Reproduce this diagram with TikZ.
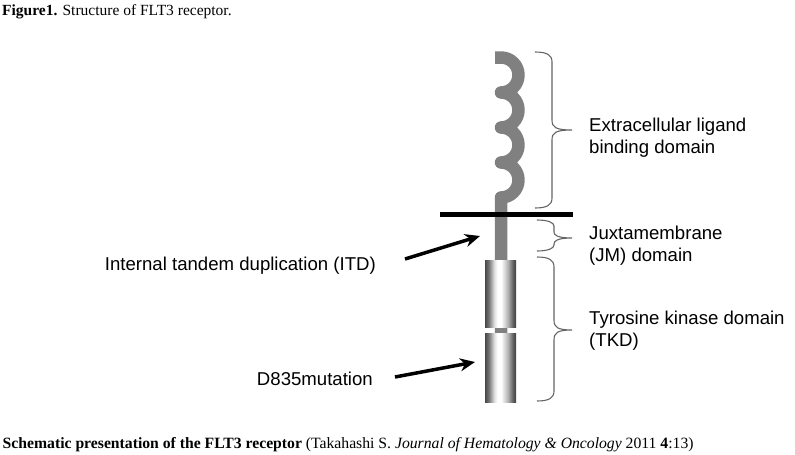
\documentclass[tikz,border=0pt]{standalone}
\usepackage{fontspec}
\setmainfont{Liberation Sans}
\newfontfamily\capfont{Liberation Serif}
\usepackage{tikz}
\usetikzlibrary{arrows.meta}
\definecolor{ecdgray}{RGB}{128, 128, 128}
\definecolor{bracegray}{RGB}{100, 100, 100}
\pgfdeclarehorizontalshading{tkdshade}{100bp}{color(0bp)=(black!72); color(25bp)=(black!72); color(31bp)=(black!55); color(40bp)=(black!12); color(45bp)=(white); color(51bp)=(white); color(62bp)=(black!30); color(70bp)=(black!62); color(75bp)=(black!75); color(100bp)=(black!75)}
% curly brace: x of ends, top y, bottom y, tip y, tip x, curl length
\newcommand{\domainbrace}[6]{%
  \draw[bracket] (#1,#2) .. controls ({#1+12},#2) and ({#1+17},{#2-3}) .. ({#1+17},{#2-#6})
    -- ({#1+17},{#4+#6}) .. controls ({#1+17},{#4+3}) and ({#1+20},#4) .. (#5,#4)
    .. controls ({#1+20},#4) and ({#1+17},{#4-3}) .. ({#1+17},{#4-#6})
    -- ({#1+17},{#3+#6}) .. controls ({#1+17},{#3+3}) and ({#1+12},#3) .. (#1,#3);}

\begin{document}
\begin{tikzpicture}[
    x=1pt, y=1pt,
    receptor/.style={draw=ecdgray, line width=12.5pt, line join=round},
    membrane/.style={line width=5.5pt, black},
    tkdbox/.style={shading=tkdshade, minimum width=31pt, inner sep=0pt},
    desc/.style={font=\fontsize{18.6}{22}\selectfont, align=left, inner sep=0pt},
    mutarrow/.style={-{Stealth[length=15pt, width=13pt]}, line width=3.5pt, black},
    bracket/.style={draw=bracegray, line width=1.1pt}
]
    \useasboundingbox (0,0) rectangle (795,-455);

    % Captions
    \node[anchor=base west, inner sep=0pt, font=\capfont\fontsize{15.5}{18}\selectfont] (title) at (2,-15) {\textbf{Figure1.} Structure of FLT3 receptor.};
    \node[anchor=base west, inner sep=0pt, font=\capfont\fontsize{15.7}{18}\selectfont] (source) at (2.5,-448) {\textbf{Schematic presentation of the FLT3 receptor} (Takahashi S. \textit{Journal of Hematology \& Oncology} 2011 \textbf{4}:13)};

    % Receptor: ligand binding curls and stem
    \draw[receptor] (495,-57.5) -- (501,-57.5)
        arc[start angle=90, end angle=-90, radius=17.5]
        arc[start angle=90, end angle=-90, radius=17.5]
        arc[start angle=90, end angle=-90, radius=17.5]
        arc[start angle=90, end angle=-90, radius=17.5]
        -- (501,-333);
    \draw[membrane] (440,-214.5) -- (573,-214.5);

    % Kinase domain halves
    \node[tkdbox, minimum height=67.5pt] (tkdup) at (500.5,-293.75) {};
    \node[tkdbox, minimum height=69pt] (tkdlow) at (500.5,-367.5) {};

    % Braces and domain names
    \domainbrace{535}{-52}{-208}{-130}{572}{10}
    \domainbrace{537}{-220}{-251}{-238}{572}{6}
    \domainbrace{537}{-257}{-401}{-330}{572}{10}
    \node[desc, anchor=west] (ecd) at (589,-137.3) {Extracellular ligand\\binding domain};
    \node[desc, anchor=west] (jm) at (589,-245.8) {Juxtamembrane\\(JM) domain};
    \node[desc, anchor=west] (tkd) at (589,-330.3) {Tyrosine kinase domain\\(TKD)};

    % Mutations
    \node[desc, anchor=base east] (itd) at (376,-270) {Internal tandem duplication (ITD)};
    \node[desc, anchor=base east] (d835) at (373,-385) {D835mutation};
    \coordinate (itdtail) at (405,-259);
    \coordinate (itdhead) at (480,-236);
    \coordinate (d835tail) at (395,-377);
    \coordinate (d835head) at (475,-362);
    \draw[mutarrow] (itdtail) -- (itdhead);
    \draw[mutarrow] (d835tail) -- (d835head);
\end{tikzpicture}
\end{document}
